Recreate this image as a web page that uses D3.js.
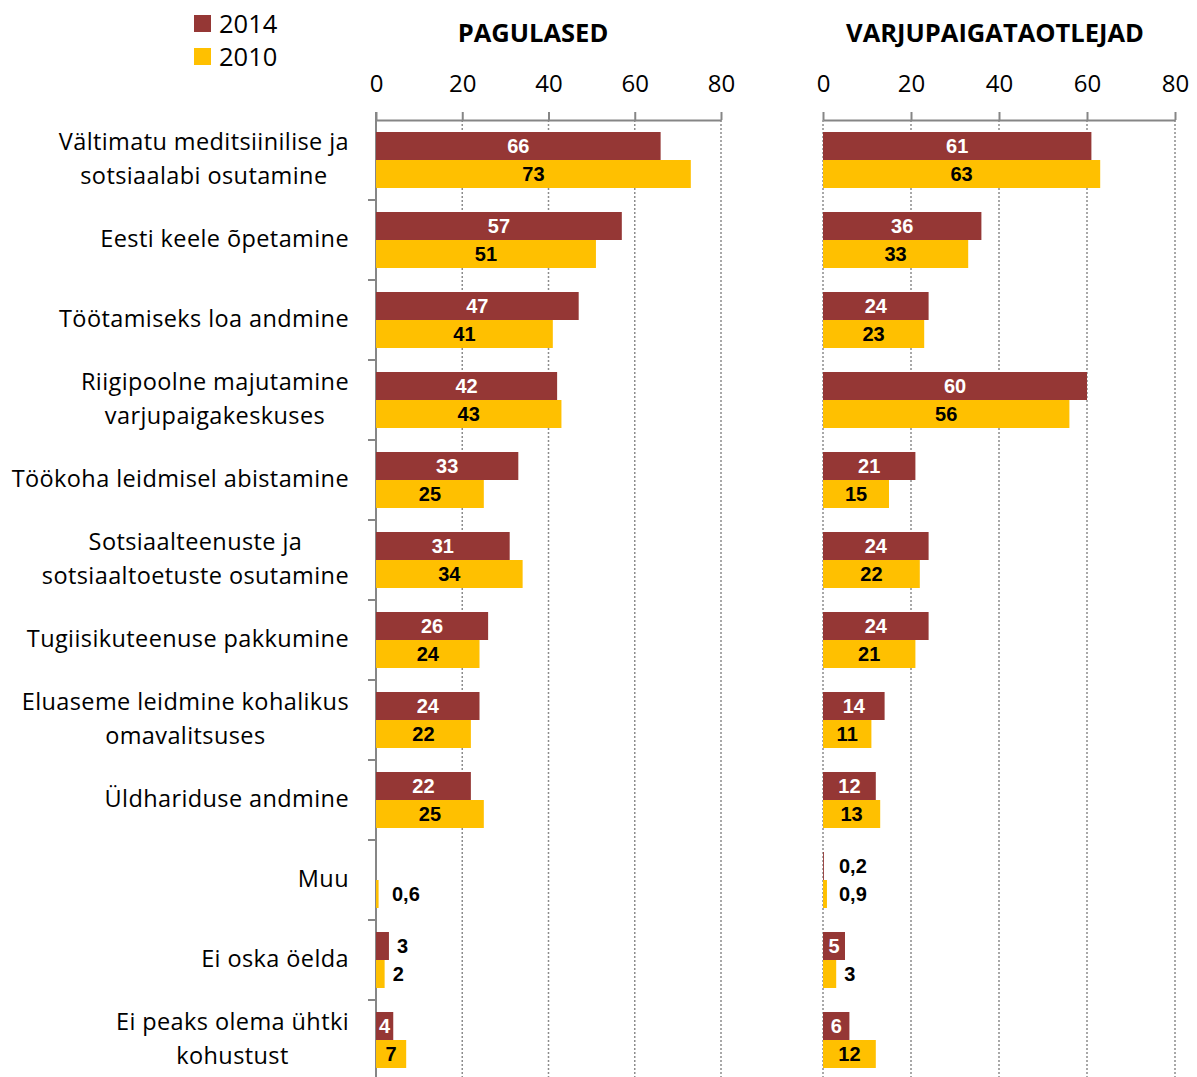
<!DOCTYPE html>
<html>
<head>
<meta charset="utf-8">
<script src="https://cdn.jsdelivr.net/npm/d3@7"></script>
<style>
  body { margin: 0; background: #fff; }
  .cat, .tick text, .legend text { font-family: "Open Sans", Lato, sans-serif; fill: #000; }
  .title { font-family: "Open Sans", sans-serif; font-weight: bold; font-size: 25.5px; }
  .val { font-family: "Liberation Sans", Arial, sans-serif; font-weight: bold; font-size: 20px; }
</style>
</head>
<body>
<div id="chart"></div>
<script>
// Categories (each line of a label separated by |)
const categories = [
    "Vältimatu meditsiinilise ja|sotsiaalabi osutamine",
    "Eesti keele õpetamine",
    "Töötamiseks loa andmine",
    "Riigipoolne majutamine|varjupaigakeskuses",
    "Töökoha leidmisel abistamine",
    "Sotsiaalteenuste ja|sotsiaaltoetuste osutamine",
    "Tugiisikuteenuse pakkumine",
    "Eluaseme leidmine kohalikus|omavalitsuses",
    "Üldhariduse andmine",
    "Muu",
    "Ei oska öelda",
    "Ei peaks olema ühtki|kohustust"
];
const seriesNames = ["2014", "2010"];
const panelTitles = ["PAGULASED", "VARJUPAIGATAOTLEJAD"];

// PAGULASED
const refugees2014 = [66, 57, 47, 42, 33, 31, 26, 24, 22, null, 3, 4];
const refugees2010 = [73, 51, 41, 43, 25, 34, 24, 22, 25, 0.6, 2, 7];
// VARJUPAIGATAOTLEJAD
const asylum2014 = [61, 36, 24, 60, 21, 24, 24, 14, 12, 0.2, 5, 6];
const asylum2010 = [63, 33, 23, 56, 15, 22, 21, 11, 13, 0.9, 3, 12];

const xTicks = [0, 20, 40, 60, 80];

const colors = { "2014": "#953735", "2010": "#FFC000" };
const labelColors = { "2014": "#fff", "2010": "#000" };

const W = 1197, H = 1077;
const svg = d3.select("#chart").append("svg")
    .attr("width", W).attr("height", H);

const plotTop = 120, plotBottom = 1080;
const y = d3.scaleBand()
    .domain(categories)
    .range([plotTop, plotBottom])
    .paddingInner(0.3)
    .paddingOuter(0.15);
const sub = d3.scaleBand().domain(seriesNames).range([0, y.bandwidth()]);

const fmt = v => String(v).replace(".", ",");

const panels = [
    { title: panelTitles[0], range: [376, 721], titleX: 533, solidAxis: true,
      data: { "2014": refugees2014, "2010": refugees2010 } },
    { title: panelTitles[1], range: [823, 1175], titleX: 995, solidAxis: false,
      data: { "2014": asylum2014, "2010": asylum2010 } }
];

panels.forEach(p => {
    const x = d3.scaleLinear().domain([0, 80]).range(p.range);
    const g = svg.append("g");

    // dotted gridlines
    g.selectAll(".grid")
        .data(p.solidAxis ? xTicks.slice(1) : xTicks)
        .enter().append("line")
        .attr("x1", d => x(d)).attr("x2", d => x(d))
        .attr("y1", plotTop).attr("y2", plotBottom)
        .attr("stroke", "#8c8c8c")
        .attr("stroke-width", 1.5)
        .attr("stroke-dasharray", "2,2");

    // top axis
    const ax = g.append("g")
        .attr("transform", `translate(0,${plotTop})`)
        .call(d3.axisTop(x).tickValues(xTicks).tickSize(8).tickSizeOuter(0).tickPadding(20));
    ax.select(".domain").attr("stroke", "#868686").attr("stroke-width", 2);
    ax.selectAll(".tick line").attr("stroke", "#868686").attr("stroke-width", 2);
    ax.selectAll(".tick text").style("font-size", "24px");

    // left category axis
    if (p.solidAxis) {
        g.append("line")
            .attr("x1", x(0)).attr("x2", x(0))
            .attr("y1", plotTop - 8).attr("y2", plotBottom)
            .attr("stroke", "#868686").attr("stroke-width", 2);
        g.selectAll(".ctick")
            .data(categories.slice(1))
            .enter().append("line")
            .attr("x1", x(0) - 8).attr("x2", x(0))
            .attr("y1", d => y(d) - y.step() * y.paddingInner() / 2)
            .attr("y2", d => y(d) - y.step() * y.paddingInner() / 2)
            .attr("stroke", "#868686").attr("stroke-width", 2);
    }

    // title
    g.append("text").attr("class", "title")
        .attr("x", p.titleX)
        .attr("y", 42)
        .attr("text-anchor", "middle")
        .text(p.title);

    seriesNames.forEach(s => {
        const vals = p.data[s];
        const rows = categories.map((c, i) => ({ c, v: vals[i] })).filter(d => d.v != null);

        g.selectAll(".bar" + s)
            .data(rows)
            .enter().append("rect")
            .attr("x", x(0))
            .attr("y", d => y(d.c) + sub(s))
            .attr("width", d => x(d.v) - x(0))
            .attr("height", sub.bandwidth())
            .attr("fill", colors[s]);

        g.selectAll(".val" + s)
            .data(rows)
            .enter().append("text")
            .attr("class", "val")
            .attr("x", d => d.v <= 3 ? Math.max(x(d.v) + 8, x(0) + 16) : (x(0) + x(d.v)) / 2)
            .attr("y", d => y(d.c) + sub(s) + sub.bandwidth() / 2)
            .attr("dy", "0.36em")
            .attr("text-anchor", d => d.v <= 3 ? "start" : "middle")
            .attr("fill", d => d.v <= 3 ? "#000" : labelColors[s])
            .text(d => fmt(d.v));
    });
});

// category labels
const catG = svg.append("g");
categories.forEach(c => {
    const lines = c.split("|");
    const cy = y(c) + y.bandwidth() / 2 - 1;
    const t = catG.append("text").attr("class", "cat")
        .style("font-size", "23.5px")
        .style("letter-spacing", "0.4px")
        .attr("text-anchor", "middle");
    lines.forEach((l, i) => {
        t.append("tspan")
            .attr("y", cy + (i - (lines.length - 1) / 2) * 34)
            .attr("dy", "0.35em")
            .text(l);
    });
    const w = d3.max(t.selectAll("tspan").nodes(), n => n.getComputedTextLength());
    t.selectAll("tspan").attr("x", 349 - w / 2);
});

// legend
const leg = svg.append("g").attr("class", "legend");
seriesNames.forEach((s, i) => {
    leg.append("rect")
        .attr("x", 194).attr("y", 15 + i * 33)
        .attr("width", 17).attr("height", 17)
        .attr("fill", colors[s]);
    leg.append("text")
        .attr("x", 219).attr("y", 24 + i * 33)
        .attr("dy", "0.35em")
        .style("font-size", "25.5px")
        .text(s);
});
</script>
</body>
</html>
